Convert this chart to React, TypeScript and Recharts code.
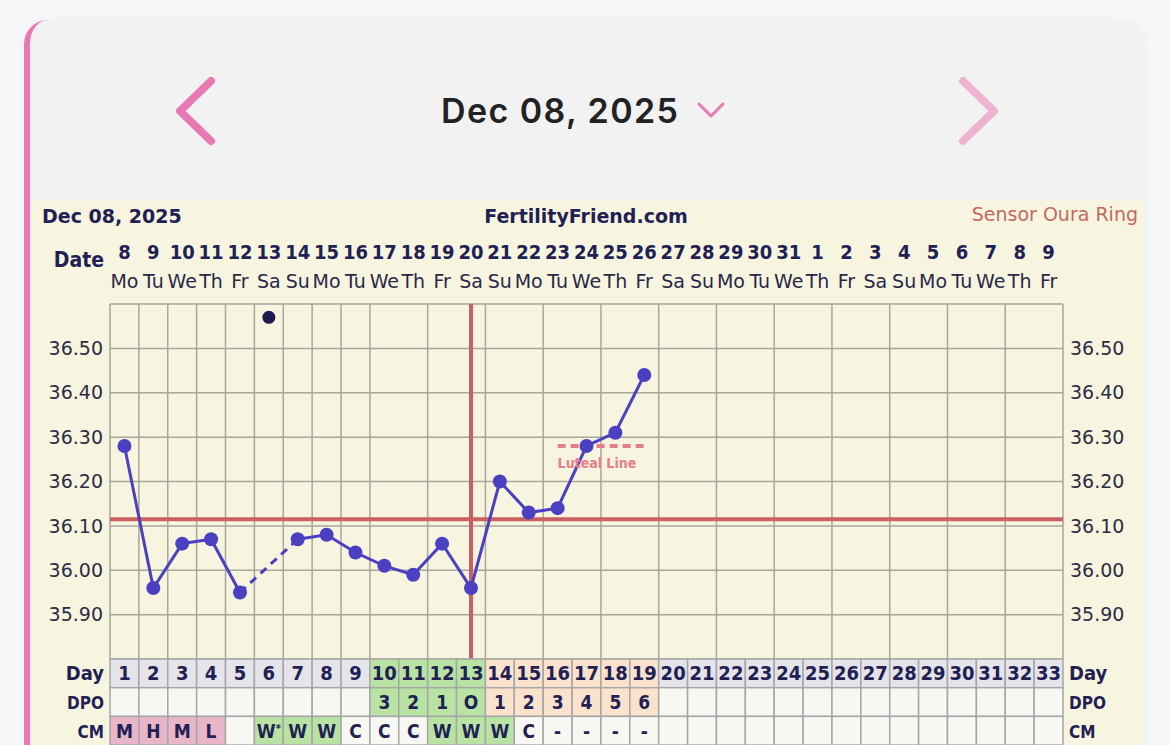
import React from 'react';
import { ComposedChart, Line, XAxis, YAxis, CartesianGrid, ReferenceLine } from 'recharts';

// ---------- data ----------
const dateNumbers = ['8','9','10','11','12','13','14','15','16','17','18','19','20','21','22','23','24','25','26','27','28','29','30','31','1','2','3','4','5','6','7','8','9'];
const weekdays = ['Mo','Tu','We','Th','Fr','Sa','Su','Mo','Tu','We','Th','Fr','Sa','Su','Mo','Tu','We','Th','Fr','Sa','Su','Mo','Tu','We','Th','Fr','Sa','Su','Mo','Tu','We','Th','Fr'];
const cycleDays = ['1','2','3','4','5','6','7','8','9','10','11','12','13','14','15','16','17','18','19','20','21','22','23','24','25','26','27','28','29','30','31','32','33'];
const temperatures: (number | null)[] = [36.28, 35.96, 36.06, 36.07, 35.95, null, 36.07, 36.08, 36.04, 36.01, 35.99, 36.06, 35.96, 36.20, 36.13, 36.14, 36.28, 36.31, 36.44];
const discardedTemps: (number | null)[] = [null, null, null, null, null, 36.57];
const dpoLabels = ['', '', '', '', '', '', '', '', '', '3', '2', '1', 'O', '1', '2', '3', '4', '5', '6'];
const cmLabels = ['M', 'H', 'M', 'L', '', 'W*', 'W', 'W', 'C', 'C', 'C', 'W', 'W', 'W', 'C', '-', '-', '-', '-'];
const fertileDays = [10, 11, 12, 13];
const lutealDays = [14, 15, 16, 17, 18, 19];
const coverline = 36.115;
const ovulationDay = 13;
const lutealLineValue = 36.28;
const lutealLineRange = [16, 19];
const yTicks = [35.9, 36.0, 36.1, 36.2, 36.3, 36.4, 36.5];

// ---------- layout ----------
const W = 1170;
const H = 745;
const N = cycleDays.length;
const PLOT_LEFT = 110;
const PLOT_RIGHT = 1063;
const COL_W = (PLOT_RIGHT - PLOT_LEFT) / N;
const ROW_H = 28.7;
const NAVY = '#221f55';
const COND = "'DejaVu Sans Condensed', 'DejaVu Sans', sans-serif";
const SANS = "'DejaVu Sans', Verdana, sans-serif";

const GREEN = '#b8e3a3';
const PEACH = '#fbe2cd';
const PINK = '#e9b5c8';
const GRAY = '#e4e4ea';
const WHITE = '#f7f7f3';

const rows = cycleDays.map((d, i) => {
  const t = temperatures[i] ?? null;
  let bridge: number | null = null;
  // dashed bridge across a missing reading
  if (t != null) {
    const nextMissing = temperatures[i + 1] == null && temperatures[i + 2] != null && i + 2 < temperatures.length;
    const prevMissing = i >= 2 && temperatures[i - 1] == null && temperatures[i - 2] != null;
    if (nextMissing || prevMissing) bridge = t;
  }
  const day = i + 1;
  return {
    day,
    temp: t,
    bridge,
    discarded: discardedTemps[i] ?? null,
    luteal: day >= lutealLineRange[0] && day <= lutealLineRange[1] ? lutealLineValue : null,
  };
});

const xTicks = rows.map((r) => r.day);
const gridXTicks = [...xTicks.map((d) => d - 0.5), N + 0.5];
const gridYTicks = Array.from({ length: 17 }, (_, k) => Math.round((35.8 + k * 0.05) * 100) / 100);

function DateTick(props: any) {
  const { x, y, payload } = props;
  const i = Math.round(payload.value) - 1;
  return (
    <g>
      {i === 0 && (
        <text x={x - COL_W / 2 - 6} y={y - 37} textAnchor="end" fontFamily={COND} fontWeight="bold" fontSize={21} fill={NAVY}>
          Date
        </text>
      )}
      <text x={x} y={y - 45} textAnchor="middle" fontFamily={COND} fontWeight="bold" fontSize={20} fill={NAVY}>
        {dateNumbers[i]}
      </text>
      <text x={x} y={y - 16} textAnchor="middle" fontFamily={SANS} fontSize={19} fill="#2a2848">
        {weekdays[i]}
      </text>
    </g>
  );
}

function cellFill(row: number, i: number): string {
  const day = i + 1;
  const fert = fertileDays.includes(day);
  const lut = lutealDays.includes(day);
  if (row === 0) return fert ? GREEN : lut ? PEACH : GRAY;
  if (row === 1) return fert ? GREEN : lut ? PEACH : WHITE;
  const c = cmLabels[i] ?? '';
  if (c === 'M' || c === 'H' || c === 'L') return PINK;
  if (c.startsWith('W')) return GREEN;
  return WHITE;
}

function TableTick(props: any) {
  const { x, y, payload } = props;
  const i = Math.round(payload.value) - 1;
  const left = x - COL_W / 2;
  const labels = [cycleDays[i], dpoLabels[i] ?? '', cmLabels[i] ?? ''];
  const names = ['Day', 'DPO', 'CM'];
  return (
    <g>
      {labels.map((lab, r) => {
        const top = y + r * ROW_H;
        const isStar = lab.endsWith('*');
        return (
          <g key={r}>
            <rect x={left} y={top} width={COL_W} height={ROW_H} fill={cellFill(r, i)} stroke="#a6a6a6" strokeWidth={1.5} />
            <text x={x} y={top + ROW_H / 2 + 7} textAnchor="middle" fontFamily={COND} fontWeight="bold" fontSize={r === 0 ? 20 : 19} fill={NAVY}>
              {isStar ? lab.slice(0, -1) : lab}
              {isStar && <tspan fontSize={11} dy={-6}>*</tspan>}
            </text>
          </g>
        );
      })}
      {i === 0 &&
        names.map((n, r) => (
          <text key={n} x={left - 6} y={y + r * ROW_H + ROW_H / 2 + 7} textAnchor="end" fontFamily={COND} fontWeight="bold" fontSize={r === 0 ? 20 : 17} fill={NAVY}>
            {n}
          </text>
        ))}
      {i === N - 1 &&
        names.map((n, r) => (
          <text key={n} x={left + COL_W + 6} y={y + r * ROW_H + ROW_H / 2 + 7} textAnchor="start" fontFamily={COND} fontWeight="bold" fontSize={r === 0 ? 20 : 17} fill={NAVY}>
            {n}
          </text>
        ))}
    </g>
  );
}

function LutealLabel(props: any) {
  const { x, y, index } = props;
  if (index !== lutealLineRange[0] - 1) return null;
  return (
    <text x={x} y={y + 22} fontFamily={COND} fontWeight="bold" fontSize={14} fill="#e57f84">
      Luteal Line
    </text>
  );
}

export default function App() {
  return (
    <div style={{ position: 'absolute', left: 0, top: 0, width: W, height: H, background: '#f6f7f9', overflow: 'hidden' }}>
      {/* card */}
      <div
        style={{
          position: 'absolute',
          left: 24,
          top: 20,
          width: 1121,
          height: 800,
          background: '#f2f2f3',
          borderLeft: '6px solid #e979b5',
          borderRadius: 24,
          boxSizing: 'border-box',
          boxShadow: '0 0 10px rgba(0,0,0,0.04)',
        }}
      />
      {/* chart paper */}
      <div style={{ position: 'absolute', left: 31, top: 200, width: 1112, height: 560, background: '#f7f5e0' }} />
      {/* header */}
      <svg width={W} height={200} style={{ position: 'absolute', left: 0, top: 0 }}>
        <polyline points="211,81 180,111 211,141" fill="none" stroke="#e879b3" strokeWidth={8} strokeLinecap="round" strokeLinejoin="round" />
        <polyline points="963,81 994,111 963,141" fill="none" stroke="#efb3d1" strokeWidth={8} strokeLinecap="round" strokeLinejoin="round" />
        <text x={441} y={123} textLength={237} lengthAdjust="spacing" fontFamily="Inter, 'Open Sans', sans-serif" fontWeight={600} fontSize={34} fill="#222">
          Dec 08, 2025
        </text>
        <polyline points="699,104 711,116 723,104" fill="none" stroke="#e879b3" strokeWidth={3} strokeLinecap="round" strokeLinejoin="round" />
      </svg>
      {/* chart titles */}
      <svg width={W} height={240} style={{ position: 'absolute', left: 0, top: 0 }}>
        <text x={42} y={223} fontFamily={SANS} fontWeight="bold" fontSize={19} fill={NAVY}>Dec 08, 2025</text>
        <text x={586} y={223} textAnchor="middle" fontFamily={SANS} fontWeight="bold" fontSize={19} fill={NAVY}>FertilityFriend.com</text>
        <text x={1138} y={221} textAnchor="end" fontFamily={SANS} fontSize={19} fill="#c4685f">Sensor Oura Ring</text>
      </svg>
      <div style={{ position: 'absolute', left: 0, top: 0 }}>
        <ComposedChart width={W} height={H} data={rows} margin={{ top: 234, right: 37, bottom: 0, left: 40 }}>
          <XAxis xAxisId="gx" type="number" dataKey="day" domain={[0.5, N + 0.5]} ticks={gridXTicks} hide height={0} allowDataOverflow />
          <YAxis yAxisId="gy" type="number" domain={[35.8, 36.6]} ticks={gridYTicks} hide width={0} allowDataOverflow />
          <CartesianGrid xAxisId="gx" yAxisId="gy" stroke="#a9a69b" strokeWidth={1.5} verticalFill={[]} />
          <XAxis
            xAxisId="top"
            orientation="top"
            type="number"
            dataKey="day"
            domain={[0.5, N + 0.5]}
            ticks={xTicks}
            interval={0}
            height={70}
            tickSize={0}
            tickMargin={0}
            axisLine={false}
            tickLine={false}
            tick={<DateTick />}
            allowDataOverflow
          />
          <XAxis
            xAxisId="d"
            orientation="bottom"
            type="number"
            dataKey="day"
            domain={[0.5, N + 0.5]}
            ticks={xTicks}
            interval={0}
            height={86}
            tickSize={0}
            tickMargin={0}
            axisLine={false}
            tickLine={false}
            tick={<TableTick />}
            allowDataOverflow
          />
          <YAxis
            yAxisId="t"
            orientation="left"
            type="number"
            domain={[35.8, 36.6]}
            ticks={yTicks}
            width={70}
            tickSize={0}
            tickMargin={7}
            axisLine={false}
            tickLine={false}
            tickFormatter={(v: number) => v.toFixed(2)}
            tick={{ fontFamily: SANS, fontSize: 19, fill: '#2d2c44' }}
            allowDataOverflow
          />
          <YAxis
            yAxisId="r"
            orientation="right"
            type="number"
            domain={[35.8, 36.6]}
            ticks={yTicks}
            width={70}
            tickSize={0}
            tickMargin={7}
            axisLine={false}
            tickLine={false}
            tickFormatter={(v: number) => v.toFixed(2)}
            tick={{ fontFamily: SANS, fontSize: 19, fill: '#2d2c44' }}
            allowDataOverflow
          />
          <ReferenceLine xAxisId="d" yAxisId="t" y={coverline} stroke="#c95f60" strokeWidth={4} />
          <ReferenceLine xAxisId="d" yAxisId="t" x={ovulationDay} stroke="#c95f60" strokeWidth={4} />
          <Line
            xAxisId="d"
            yAxisId="t"
            dataKey="luteal"
            stroke="#e67f84"
            strokeWidth={4}
            strokeDasharray="8 5"
            dot={false}
            activeDot={false}
            isAnimationActive={false}
            label={<LutealLabel />}
          />
          <Line
            xAxisId="d"
            yAxisId="t"
            dataKey="bridge"
            stroke="#4b3fc2"
            strokeWidth={3}
            strokeDasharray="8 6"
            connectNulls
            dot={false}
            activeDot={false}
            isAnimationActive={false}
          />
          <Line
            xAxisId="d"
            yAxisId="t"
            dataKey="temp"
            stroke="#4b3fc2"
            strokeWidth={3}
            dot={{ r: 7, fill: '#4b3fc2', stroke: 'none' }}
            activeDot={false}
            isAnimationActive={false}
          />
          <Line
            xAxisId="d"
            yAxisId="t"
            dataKey="discarded"
            stroke="none"
            dot={{ r: 6.5, fill: '#1d1b4f', stroke: 'none' }}
            activeDot={false}
            isAnimationActive={false}
          />
        </ComposedChart>
      </div>
    </div>
  );
}
